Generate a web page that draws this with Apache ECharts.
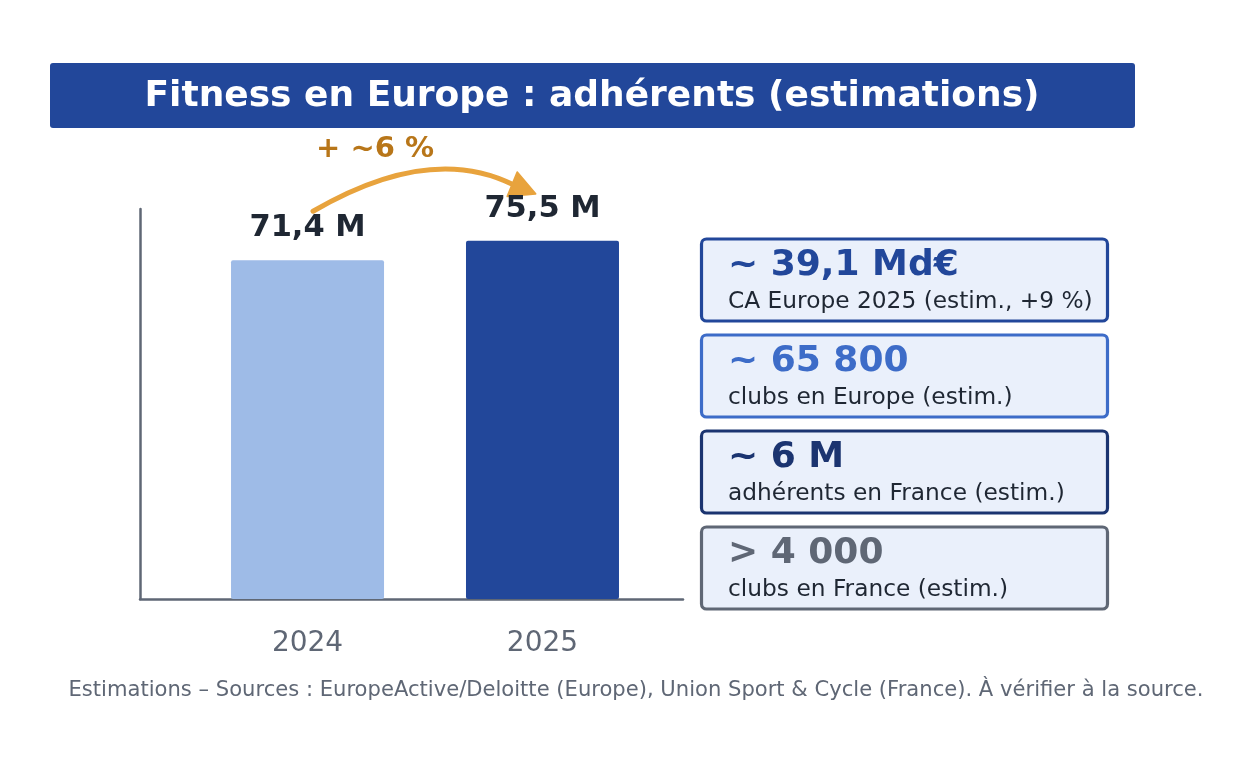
<!DOCTYPE html>
<html>
<head>
<meta charset="utf-8">
<script src="https://cdn.jsdelivr.net/npm/echarts@6/dist/echarts.min.js"></script>
<style>
html,body{margin:0;padding:0;background:#fff;}
#c{width:1254px;height:762px;}
</style>
</head>
<body>
<div id="c"></div>
<script>
// ---- data ----
var categories = ['2024', '2025'];
var members = [71.4, 75.5];
var memberLabels = ['71,4 M', '75,5 M'];
var growthLabel = '+ ~6 %';
var kpiValues = ['~ 39,1 Md€', '~ 65 800', '~ 6 M', '> 4 000'];
var kpiTexts = ['CA Europe 2025 (estim., +9 %)', 'clubs en Europe (estim.)', 'adhérents en France (estim.)', 'clubs en France (estim.)'];
var titleText = 'Fitness en Europe : adhérents (estimations)';
var footerText = 'Estimations – Sources : EuropeActive/Deloitte (Europe), Union Sport & Cycle (France). À vérifier à la source.';

// ---- styles ----
var FONT = 'DejaVu Sans';
var barColors = ['#9ebbe7', '#22479a'];
var kpiColors = ['#22479a', '#3d6cc8', '#1b3470', '#5f6775'];

(function () {
var chart = echarts.init(document.getElementById('c'), null, {renderer: 'canvas'});

var barData = members.map(function (v, i) {
  return {value: [i, v], itemStyle: {color: barColors[i]}, label: {formatter: memberLabels[i]}};
});

var option = {
  animation: false,
  textStyle: {fontFamily: FONT},
  grid: {left: 140, right: 571, top: 209, bottom: 163},
  xAxis: {
    type: 'value', min: -0.713, max: 1.598,
    axisLine: {show: true, onZero: false, lineStyle: {color: '#5f6775', width: 2.5}},
    axisTick: {show: false},
    splitLine: {show: false},
    axisLabel: {
      customValues: [0, 1],
      formatter: function (v) { return categories[Math.round(v)]; },
      color: '#5f6775', fontSize: 28, lineHeight: 28, margin: 31, fontFamily: FONT
    }
  },
  yAxis: {
    type: 'value', min: 0, max: 82.2,
    axisLine: {show: true, onZero: false, lineStyle: {color: '#5f6775', width: 2.5}},
    axisTick: {show: false},
    axisLabel: {show: false},
    splitLine: {show: false}
  },
  series: [{
    type: 'bar',
    barWidth: 153,
    data: barData,
    itemStyle: {borderRadius: 2},
    label: {
      show: true, position: 'top', distance: 17,
      color: '#1f2733', fontSize: 30.5, lineHeight: 30, fontWeight: 'bold', fontFamily: FONT
    }
  }]
};
chart.setOption(option);

// ---- annotations ----
var g = [];
g.push({type: 'rect', shape: {x: 50, y: 63, width: 1085, height: 65, r: 3}, style: {fill: '#22479a'}});
g.push({type: 'text', x: 592, y: 97, style: {text: titleText, fill: '#ffffff', font: 'bold 36px "DejaVu Sans"', align: 'center', verticalAlign: 'middle'}});

for (var i = 0; i < kpiValues.length; i++) {
  var boxTop = 239 + i * 96;
  g.push({type: 'rect', shape: {x: 701.5, y: boxTop, width: 406, height: 82, r: 5},
    style: {fill: '#eaf0fb', stroke: kpiColors[i], lineWidth: 3.2}});
  g.push({type: 'text', x: 728, y: boxTop + 27, style: {text: kpiValues[i], fill: kpiColors[i], font: 'bold 36px "DejaVu Sans"', align: 'left', verticalAlign: 'middle'}});
  g.push({type: 'text', x: 728, y: boxTop + 63, style: {text: kpiTexts[i], fill: '#1f2733', font: '23.3px "DejaVu Sans"', align: 'left', verticalAlign: 'middle'}});
}

g.push({type: 'text', x: 636, y: 691, style: {text: footerText, fill: '#5f6775', font: '21.1px "DejaVu Sans"', align: 'center', verticalAlign: 'middle'}});

// growth arrow anchored on bar tops
var p0 = chart.convertToPixel({gridIndex: 0}, [0, members[0]]);
var p1 = chart.convertToPixel({gridIndex: 0}, [1, members[1]]);
var sx = p0[0] + 5.5, sy = p0[1] - 49;
var ex = p1[0] - 29, ey = p1[1] - 56;
var cx = 430, cy = 143;
var tx = p1[0] - 7, ty = p1[1] - 47;
g.push({type: 'bezierCurve', shape: {x1: sx, y1: sy, x2: ex, y2: ey, cpx1: cx, cpy1: cy},
  style: {stroke: '#e8a33d', lineWidth: 5, fill: 'none', lineCap: 'round'}});
var dx = tx - ex, dy = ty - ey, L = Math.sqrt(dx * dx + dy * dy);
var ux = dx / L, uy = dy / L;
var bx = tx - ux * 25, by = ty - uy * 25;
var hw = 13;
g.push({type: 'polygon', shape: {points: [[tx, ty], [bx - uy * hw, by + ux * hw], [bx + uy * hw, by - ux * hw]]},
  style: {fill: '#e8a33d', stroke: '#e8a33d', lineWidth: 2, lineJoin: 'round'}});
g.push({type: 'text', x: 375, y: 149, style: {text: growthLabel, fill: '#b87619', font: 'bold 29px "DejaVu Sans"', align: 'center', verticalAlign: 'middle'}});

chart.setOption({graphic: g});
})();
</script>
</body>
</html>
